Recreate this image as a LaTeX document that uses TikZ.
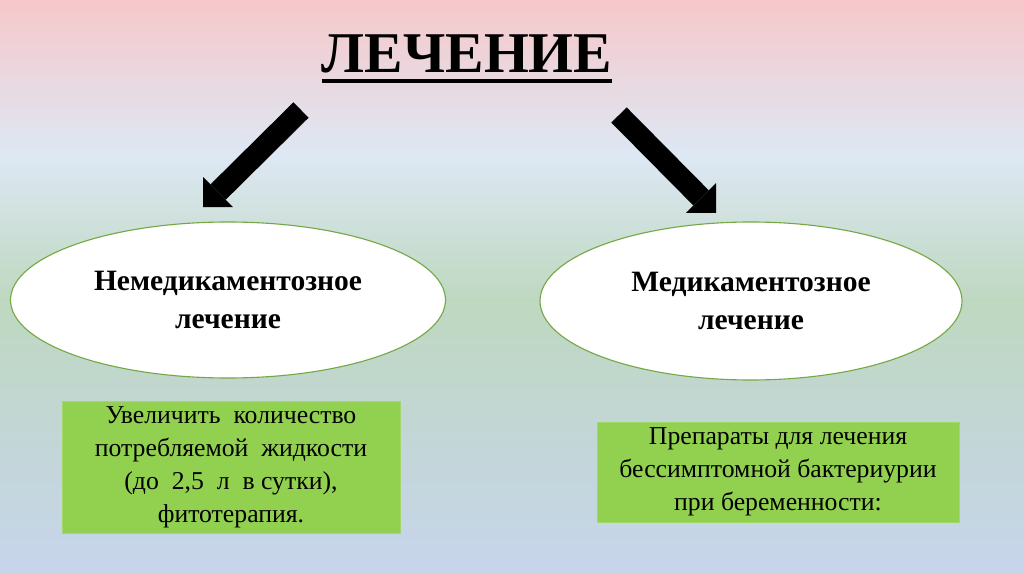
\documentclass[tikz,border=0pt]{standalone}
\usepackage{fontspec}
\setmainfont{Liberation Serif}
\usepackage{xcolor}
\definecolor{bgpink}{RGB}{246,200,202}
\definecolor{bgblue}{RGB}{221,232,244}
\definecolor{bggreen}{RGB}{190,216,192}
\definecolor{bgbottom}{RGB}{199,213,236}
\definecolor{leafgreen}{RGB}{146,208,80}
\definecolor{ovalgreen}{RGB}{119,168,70}
\usetikzlibrary{arrows.meta,shapes.geometric}
\tikzset{
  oval/.style={draw=ovalgreen, fill=white, ellipse, line width=0.8pt, inner sep=0pt,
               font=\fontsize{21}{27}\selectfont\bfseries, align=center},
  greenbox/.style={draw=leafgreen!85!white, fill=leafgreen, inner sep=0pt,
                   font=\fontsize{18.3}{23.5}\selectfont, align=center},
  bigarrow/.style={line width=5.4mm, -{Triangle[width=10.6mm, length=5.3mm, line width=0pt]}},
}
\begin{document}
\begin{tikzpicture}
\useasboundingbox (0,0) rectangle (25.6,-14.35);

% Background
\shade[top color=bgpink, bottom color=bgblue] (0,0) rectangle (25.6,-3.9);
\shade[top color=bgblue, bottom color=bggreen] (0,-3.85) rectangle (25.6,-7.5);
\shade[top color=bggreen, bottom color=bgbottom] (0,-7.45) rectangle (25.6,-14.35);

% Title
\node[font=\fontsize{41}{49}\selectfont\bfseries, inner sep=0pt, anchor=base] (title) at (11.675,-1.825) {ЛЕЧЕНИЕ};
\draw[line width=2.8pt] ([yshift=-5.8pt]title.base west) -- ([yshift=-5.8pt]title.base east);

% Arrows
\coordinate (ltail) at (7.525,-2.75);
\coordinate (ltip) at (5.075,-5.175);
\coordinate (rtail) at (15.475,-2.875);
\coordinate (rtip) at (17.9,-5.325);
\draw[bigarrow] (ltail) -- (ltip);
\draw[bigarrow] (rtail) -- (rtip);

% Two kinds of treatment
\node[oval, minimum width=10.875cm, minimum height=3.9cm] (nondrug) at (5.7,-7.5)
      {Немедикаментозное\\лечение};
\node[oval, minimum width=10.55cm, minimum height=3.95cm] (drug) at (18.775,-7.525)
      {Медикаментозное\\лечение};

% Details
\node[greenbox, minimum width=8.45cm, minimum height=3.3cm] (fluids) at (5.775,-11.675)
      {Увеличить\hspace{0.5em}количество\\потребляемой\hspace{0.5em}жидкости\\(до\hspace{0.5em}2,5\hspace{0.5em}л\hspace{0.5em}в сутки),\\фитотерапия.};
\node[greenbox, minimum width=9.05cm, minimum height=2.5cm] (pills) at (19.45,-11.8)
      {Препараты для лечения\\бессимптомной бактериурии\\при беременности:};

\end{tikzpicture}
\end{document}
